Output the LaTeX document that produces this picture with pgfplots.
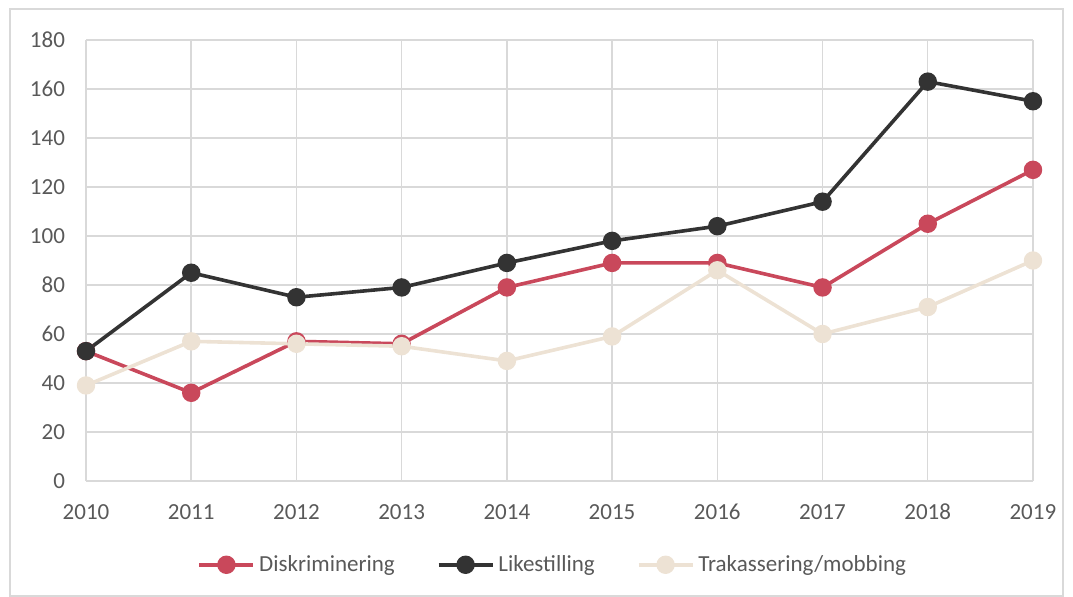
\documentclass[border=0pt]{standalone}
\usepackage{pgfplots}
\pgfplotsset{compat=1.18}
\usepackage{fontspec}
\setmainfont{Carlito}
\definecolor{diskColor}{HTML}{C9485B}
\definecolor{likeColor}{HTML}{333333}
\definecolor{trakColor}{HTML}{EDE2D4}
\definecolor{gridColor}{HTML}{D9D9D9}
\definecolor{textColor}{HTML}{595959}
\begin{document}
\begin{tikzpicture}
\useasboundingbox (0,0) rectangle (536.5pt,298.5pt);
\draw[gridColor, line width=0.75pt] (5pt,0.5pt) rectangle (531.5pt,294pt);
\begin{axis}[
    at={(43pt,58pt)}, anchor=south west,
    scale only axis,
    width=473.5pt, height=220.5pt,
    xmin=2010, xmax=2019,
    ymin=0, ymax=180,
    xtick={2010,...,2019},
    ytick={0,20,...,180},
    xticklabel={\pgfmathprintnumber[1000 sep={}]{\tick}},
    axis line style={draw=none},
    major tick length=0pt,
    grid=major,
    major grid style={gridColor, line width=0.75pt},
    tick label style={font=\fontsize{11.5}{13.5}\selectfont, text=textColor},
    /pgf/number format/assume math mode=true,
    yticklabel style={xshift=-7pt},
    xticklabel style={anchor=base, yshift=-19.5pt},
    legend style={at={(axis description cs:0.494,-0.19)}, anchor=center,
        legend columns=3, draw=none, fill=none,
        font=\fontsize{11.5}{13.5}\selectfont, text=textColor,
        /tikz/every even column/.append style={column sep=19pt}},
    legend cell align=left,
    legend image code/.code={
        \draw[#1, mark=none] (0pt,0pt) -- (27pt,0pt);
        \draw[#1, only marks] plot coordinates {(13.5pt,0pt)};
    },
    every axis plot/.append style={line width=1.8pt, mark=*, mark size=3.7pt},
]
\addplot[diskColor, mark options={fill=diskColor, draw=diskColor}] coordinates {
    (2010,53) (2011,36) (2012,57) (2013,56) (2014,79)
    (2015,89) (2016,89) (2017,79) (2018,105) (2019,127)};
\addlegendentry{Diskriminering}
\addplot[likeColor, mark options={fill=likeColor, draw=likeColor}] coordinates {
    (2010,53) (2011,85) (2012,75) (2013,79) (2014,89)
    (2015,98) (2016,104) (2017,114) (2018,163) (2019,155)};
\addlegendentry{Likestilling}
\addplot[trakColor, mark options={fill=trakColor, draw=trakColor}] coordinates {
    (2010,39) (2011,57) (2012,56) (2013,55) (2014,49)
    (2015,59) (2016,86) (2017,60) (2018,71) (2019,90)};
\addlegendentry{Trakassering/mobbing}
\end{axis}
\end{tikzpicture}
\end{document}
